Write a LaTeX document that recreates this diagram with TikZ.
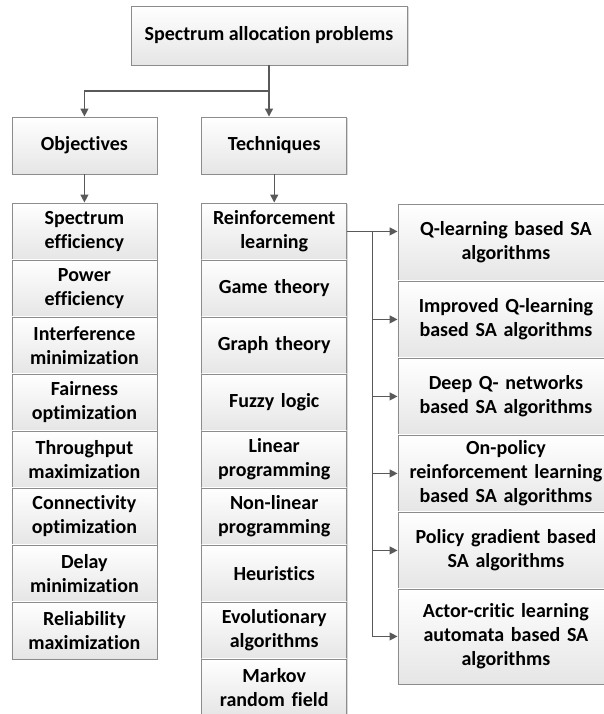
\documentclass[tikz,border=0pt]{standalone}
\usepackage{fontspec}
\setmainfont{Carlito}[Ligatures=NoCommon]
\usetikzlibrary{matrix,arrows.meta,shadows,calc}

\tikzset{
  box/.style={draw=black!45, line width=0.8pt, top color=white, bottom color=black!10,
    drop shadow={shadow xshift=1.5pt, shadow yshift=-1.5pt, fill=black!30, opacity=.5},
    align=center, inner sep=2pt, font=\fontsize{20}{24}\selectfont\bfseries},
  link/.style={draw=black!65, line width=1.3pt, -{Triangle[length=8pt,width=8pt]}}
}

\begin{document}
\begin{tikzpicture}[x=1pt, y=-1pt]
  \useasboundingbox (0,0) rectangle (603,714);
  \node[box, minimum width=276pt, minimum height=59pt] (top) at (269,35.5) {Spectrum allocation problems};
  \matrix (m) [matrix of nodes, anchor=north west, column sep=44pt, row sep=-0.8pt,
    nodes={box, anchor=center, minimum width=145pt, minimum height=57pt, text width=141pt}] at (8,113)
  {
Objectives & Techniques \\[29pt]
{Spectrum\\efficiency} & {Reinforcement\\learning} \\
{Power\\efficiency} & Game theory \\
{Interference\\minimization} & Graph theory \\
{Fairness\\optimization} & Fuzzy logic \\
{Throughput\\maximization} & {Linear\\programming} \\
{Connectivity\\optimization} & {Non-linear\\programming} \\
{Delay\\minimization} & Heuristics \\
{Reliability\\maximization} & {Evolutionary\\algorithms} \\
 & {Markov\\random field} \\
  };
  \matrix (r) [matrix of nodes, anchor=north west, row sep=-0.8pt,
    nodes={box, anchor=center, minimum width=216pt, minimum height=77pt, text width=212pt}] at (394,200)
  {
{Q-learning based SA\\algorithms} \\
{Improved Q-learning\\based SA algorithms} \\
{Deep Q- networks\\based SA algorithms} \\
{On-policy\\reinforcement learning\\based SA algorithms} \\
{Policy gradient based\\SA algorithms} \\
|[minimum height=95pt]| {Actor-critic learning\\automata based SA\\algorithms} \\
  };
  \coordinate (fork) at ($(top.south)!.5!(top.south |- m-1-2.north)$);
  \coordinate (bus) at ($(m-2-2.east)!.5!(m-2-2.east -| r-1-1.west)$);
  \path
  (top.south) edge[link] (top.south |- m-1-2.north)
  (m-1-1) edge[link] (m-2-1)
  (m-1-2) edge[link] (m-2-2)
          ;
  \draw[link] (fork) -| (m-1-1.north);
  \draw[link] (m-2-2.east) -- (m-2-2.east -| r-1-1.west);
  \draw[link] (bus) |- (r-6-1.west);
  \foreach \i in {2,...,5}
    \draw[link] (bus |- r-\i-1.west) -- (r-\i-1.west);
\end{tikzpicture}
\end{document}
